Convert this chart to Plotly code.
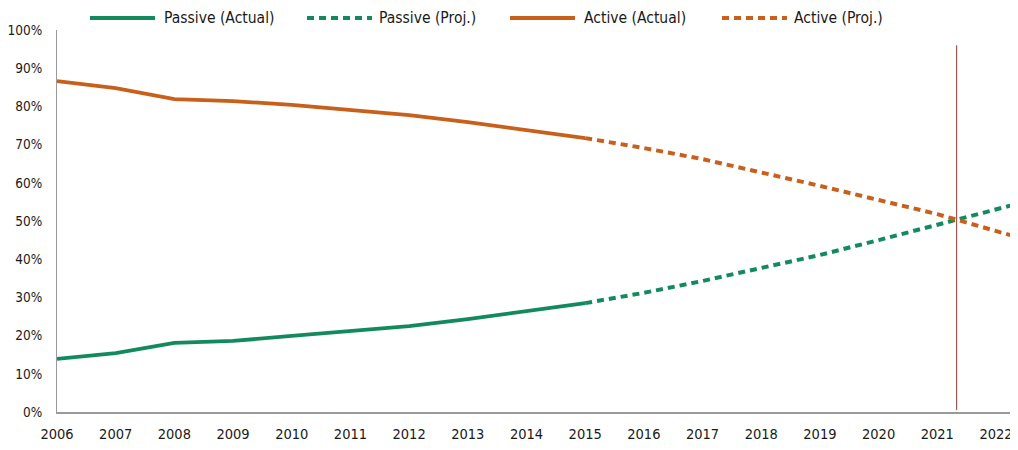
import plotly.graph_objects as go

years_actual = [2006, 2007, 2008, 2009, 2010, 2011, 2012, 2013, 2014, 2015]
passive_actual = [13.9, 15.4, 18.1, 18.6, 19.9, 21.2, 22.5, 24.3, 26.4, 28.5]
active_actual = [86.6, 84.8, 81.9, 81.4, 80.4, 79.1, 77.7, 75.9, 73.8, 71.7]

years_proj = [2015, 2016, 2017, 2018, 2019, 2020, 2021, 2022.29]
passive_proj = [28.5, 31.2, 34.3, 37.7, 41.1, 45.0, 49.0, 54.2]
active_proj = [71.7, 69.1, 66.2, 62.8, 59.2, 55.5, 51.8, 46.1]

series_names = ["Passive (Actual)", "Passive (Proj.)", "Active (Actual)", "Active (Proj.)"]

crossover_year = 2021.33
x_ticks = list(range(2006, 2023))
y_ticks = list(range(0, 101, 10))

GREEN = "#138a5e"
ORANGE = "#c8601c"
FONT = "DejaVu Sans Condensed, Roboto, sans-serif"
DASH = "7px,5px"

OFF = 8  # page body margin
W, H = 1018 - OFF, 450 - OFF
ML, MR, MT, MB = 57 - OFF, 5, 30 - OFF, 38
PW, PH = W - ML - MR, H - MT - MB


def px_to_paper_x(px):
    return (px - OFF - ML) / PW


def py_to_paper_y(py):
    return (H - MB - (py - OFF)) / PH


fig = go.Figure()
styles = [
    (years_actual, passive_actual, GREEN, "solid", 3.8),
    (years_proj, passive_proj, GREEN, DASH, 4),
    (years_actual, active_actual, ORANGE, "solid", 3.8),
    (years_proj, active_proj, ORANGE, DASH, 4),
]
for name, (xs, ys, col, dash, w) in zip(series_names, styles):
    fig.add_trace(go.Scatter(x=xs, y=ys, mode="lines", name=name, showlegend=False,
                             line=dict(color=col, width=w, dash=dash)))

# custom legend (decoration in paper coordinates)
legend_slots = [(90, 155, 162), (307, 372, 377), (510, 575, 582), (722, 787, 792)]
legend_y = py_to_paper_y(18)
for name, (x0, x1, tx), (_, _, col, dash, w) in zip(series_names, legend_slots, styles):
    fig.add_shape(type="line", xref="paper", yref="paper",
                  x0=px_to_paper_x(x0), x1=px_to_paper_x(x1), y0=legend_y, y1=legend_y,
                  line=dict(color=col, width=4, dash=dash))
    fig.add_annotation(xref="paper", yref="paper", x=px_to_paper_x(tx), y=legend_y,
                       xanchor="left", yanchor="middle", text=name, showarrow=False,
                       font=dict(family=FONT, size=15.5, color="#1a1a1a"))

fig.add_shape(type="line", xref="x", yref="paper", x0=crossover_year, x1=crossover_year,
              y0=0.005, y1=0.96, line=dict(color="#8a3b33", width=1))

fig.update_layout(
    width=W, height=H,
    margin=dict(l=ML, r=MR, t=MT, b=MB, autoexpand=False),
    plot_bgcolor="white", paper_bgcolor="white",
    font=dict(family=FONT, size=13.5, color="#1a1a1a"),
    showlegend=False,
)
fig.update_xaxes(range=[2006, 2022.29], tickvals=x_ticks, ticktext=[str(v) for v in x_ticks],
                 showgrid=False, zeroline=False, showline=True, linecolor="#9a9a9a", linewidth=2,
                 ticks="outside", ticklen=8, tickcolor="rgba(0,0,0,0)",
                 tickfont=dict(family=FONT, size=14.5, color="#1a1a1a"))
fig.update_yaxes(range=[0, 100], tickvals=y_ticks, ticktext=[f"{v}%" for v in y_ticks],
                 showgrid=False, zeroline=False, showline=True, linecolor="#9a9a9a", linewidth=1,
                 ticks="outside", ticklen=11, tickcolor="rgba(0,0,0,0)",
                 tickfont=dict(family=FONT, size=13.5, color="#1a1a1a"))

fig.write_html("out.html")
